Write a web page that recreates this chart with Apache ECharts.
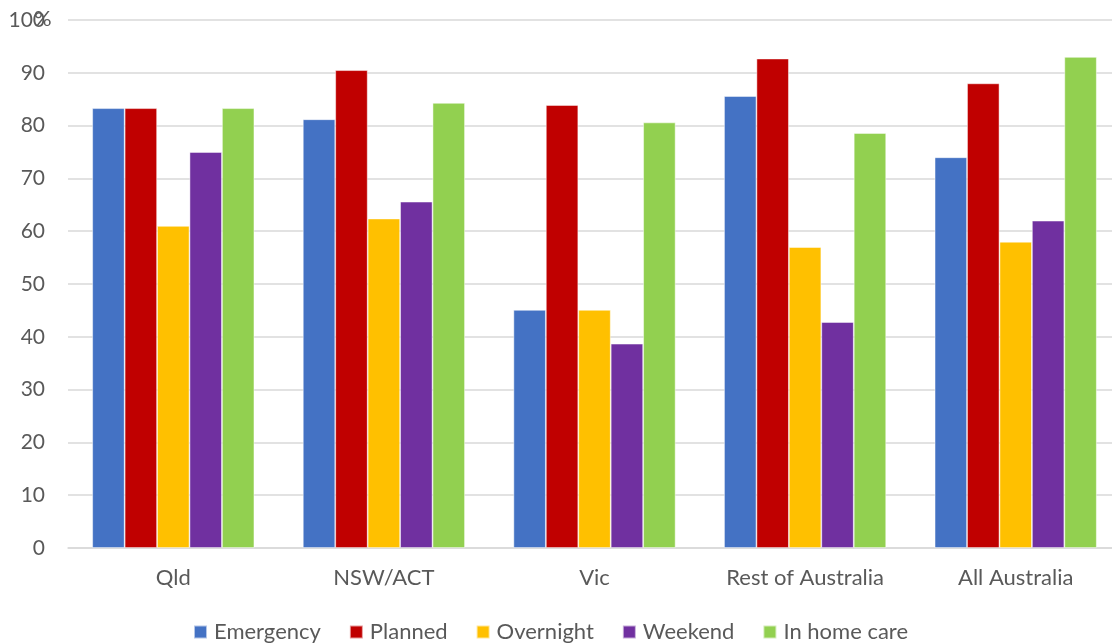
<!DOCTYPE html>
<html>
<head>
<meta charset="utf-8">
<script src="https://cdn.jsdelivr.net/npm/echarts@6/dist/echarts.min.js"></script>
<style>
  html, body { margin: 0; padding: 0; background: #fff; overflow: hidden; }
  /* the chart is a little wider than the window so the last group runs to the edge */
  #chart { width: 1124px; height: 644px; }
</style>
</head>
<body>
<div id="chart"></div>
<script>
// Regions along the x axis
const regions = ['Qld', 'NSW/ACT', 'Vic', 'Rest of Australia', 'All Australia'];

// Percentage of respondents per care type, by region
const emergency  = [83.3, 81.2, 45.1, 85.6, 74.0];
const planned    = [83.3, 90.5, 83.9, 92.7, 88.0];
const overnight  = [61.0, 62.4, 45.1, 57.0, 58.0];
const weekend    = [75.0, 65.6, 38.7, 42.8, 62.0];
const inHomeCare = [83.3, 84.3, 80.6, 78.6, 93.0];

const seriesNames = ['Emergency', 'Planned', 'Overnight', 'Weekend', 'In home care'];
const seriesData = [emergency, planned, overnight, weekend, inHomeCare];
const colors = ['#4472C4', '#C00000', '#FFC000', '#7030A0', '#92D050'];

const FONT = 'Lato, "Open Sans", sans-serif';
const TEXT = '#595959';

const chart = echarts.init(document.getElementById('chart'));
chart.setOption({
  animation: false,
  color: colors,
  textStyle: { fontFamily: FONT },
  grid: { left: 68, top: 20, width: 1053, bottom: 96 },
  legend: {
    left: 193,
    top: 621,
    padding: 0,
    itemWidth: 13,
    itemHeight: 13,
    itemGap: 28,
    icon: 'rect',
    textStyle: { fontFamily: FONT, fontSize: 22, color: TEXT, padding: [0, 0, 0, 2] },
    data: seriesNames
  },
  xAxis: {
    type: 'category',
    data: regions,
    axisLine: { lineStyle: { color: '#d9d9d9', width: 1.5 } },
    axisTick: { show: false },
    axisLabel: { fontFamily: FONT, fontSize: 22, color: TEXT, margin: 19 }
  },
  yAxis: {
    type: 'value',
    min: 0,
    max: 100,
    interval: 10,
    axisLine: { show: false },
    axisTick: { show: false },
    splitLine: { lineStyle: { color: '#d9d9d9', width: 1.5 } },
    axisLabel: { fontFamily: FONT, fontSize: 21, color: TEXT, margin: 23 }
  },
  graphic: [{
    type: 'text',
    left: 34,
    top: 8,
    style: { text: '%', fontFamily: FONT, fontSize: 22, fill: TEXT }
  }],
  series: seriesNames.map((name, i) => ({
    name,
    type: 'bar',
    data: seriesData[i],
    barGap: '0%',
    barCategoryGap: '23%',
    itemStyle: { borderColor: 'rgba(255,255,255,0.6)', borderWidth: 0.8 }
  }))
});
</script>
</body>
</html>
